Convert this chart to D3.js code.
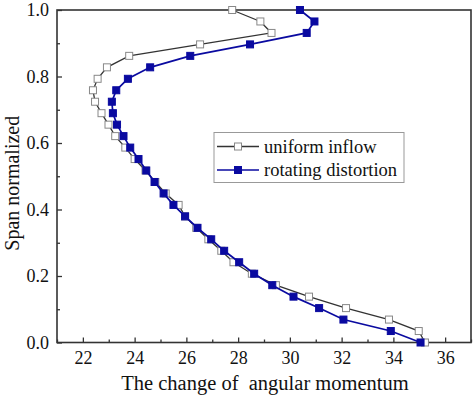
<!DOCTYPE html>
<html><head><meta charset="utf-8">
<script src="https://cdn.jsdelivr.net/npm/d3@7"></script>
<style>body{margin:0;background:#fff}svg{display:block}
svg text{font-family:"Liberation Serif","Times New Roman",serif !important;}</style>
</head><body>
<svg id="c" width="474" height="398"></svg>
<script>
const spans = d3.range(30).map(i => i / 29);
const uniformInflow = [35.22,34.98,33.83,32.17,30.74,29.46,28.53,27.82,27.35,26.85,26.38,25.95,25.7,25.2,24.8,24.42,24.0,23.64,23.25,22.99,22.72,22.47,22.39,22.57,22.93,23.79,26.53,29.29,28.86,27.77];
const rotatingDistortion = [35.05,33.9,32.07,31.13,30.14,29.32,28.62,28.04,27.46,26.96,26.43,25.95,25.5,25.12,24.77,24.45,24.15,23.83,23.57,23.32,23.16,23.12,23.29,23.74,24.6,26.15,28.46,30.65,30.95,30.39];
const xTicks = [22,24,26,28,30,32,34,36];
const yTicks = [0.0,0.2,0.4,0.6,0.8,1.0];
const seriesNames = ["uniform inflow","rotating distortion"];

const svg = d3.select("#c");
const L=57,R=471,T=10,B=342.5;
const x = d3.scaleLinear().domain([21,37]).range([L,R]);
const y = d3.scaleLinear().domain([0,1]).range([B,T]);
const font = "Liberation Serif";
const axisColor = "#333";

const xAxis = d3.axisBottom(x).tickValues(xTicks).tickSize(-5).tickPadding(9).tickFormat(d3.format("d"));
const xMinor = d3.axisBottom(x).tickValues(d3.range(21,38,1).filter(v=>v%2===1)).tickSize(-3).tickFormat("");
const yAxis = d3.axisLeft(y).tickValues(yTicks).tickSize(-5).tickPadding(8).tickFormat(d3.format(".1f"));
const yMinor = d3.axisLeft(y).tickValues([0.1,0.3,0.5,0.7,0.9]).tickSize(-3).tickFormat("");

function style(g){
  g.attr("font-family",font);
  g.selectAll("path").remove();
  g.selectAll("line").attr("stroke",axisColor).attr("stroke-width",1.3);
  g.selectAll("text").attr("fill","#111").attr("font-family",font).attr("font-size","18px");
}
svg.append("g").attr("transform",`translate(0,${B})`).call(xAxis).call(style);
svg.append("g").attr("transform",`translate(0,${B})`).call(xMinor).call(style);
svg.append("g").attr("transform",`translate(${L},0)`).call(yAxis).call(style);
svg.append("g").attr("transform",`translate(${L},0)`).call(yMinor).call(style);

svg.append("rect").attr("x",L).attr("y",T).attr("width",R-L).attr("height",B-T)
  .attr("fill","none").attr("stroke",axisColor).attr("stroke-width",1.6);

svg.append("text").attr("x",265).attr("y",390).attr("text-anchor","middle")
  .attr("font-family",font).attr("font-size","20.5px").attr("fill","#111")
  .attr("xml:space","preserve").text("The change of  angular momentum");
svg.append("text").attr("transform",`translate(19,${(T+B)/2+7}) rotate(-90)`).attr("text-anchor","middle")
  .attr("font-family",font).attr("font-size","20px").attr("fill","#111").text("Span normalized");

const line = d3.line().x(d=>x(d[0])).y(d=>y(d[1]));
const series = [
  {vals:uniformInflow, stroke:"#333", mfill:"#fff", mstroke:"#888", lw:1.3},
  {vals:rotatingDistortion, stroke:"#0a0aa0", mfill:"#0a0aa0", mstroke:"#0a0aa0", lw:1.7}
];
const ms = 7;
series.forEach(s=>{
  const pts = s.vals.map((v,i)=>[v,spans[i]]);
  svg.append("path").datum(pts).attr("d",line).attr("fill","none").attr("stroke",s.stroke).attr("stroke-width",s.lw);
  svg.append("g").selectAll("rect").data(pts).join("rect")
    .attr("x",d=>x(d[0])-ms/2).attr("y",d=>y(d[1])-ms/2).attr("width",ms).attr("height",ms)
    .attr("fill",s.mfill).attr("stroke",s.mstroke).attr("stroke-width",1);
});

const lg = svg.append("g");
lg.append("rect").attr("x",214).attr("y",132.5).attr("width",190).attr("height",50)
  .attr("fill","#fff").attr("stroke","#999").attr("stroke-width",1);
series.forEach((s,i)=>{
  const ly = 146.5 + i*23.5;
  lg.append("line").attr("x1",217).attr("x2",259).attr("y1",ly).attr("y2",ly).attr("stroke",s.stroke).attr("stroke-width",s.lw);
  lg.append("rect").attr("x",238-ms/2).attr("y",ly-ms/2).attr("width",ms).attr("height",ms)
    .attr("fill",s.mfill).attr("stroke",s.mstroke).attr("stroke-width",1);
  lg.append("text").attr("x",264).attr("y",ly+6).attr("font-family",font).attr("font-size","18.5px")
    .attr("fill","#111").text(seriesNames[i]);
});
</script>
</body></html>
